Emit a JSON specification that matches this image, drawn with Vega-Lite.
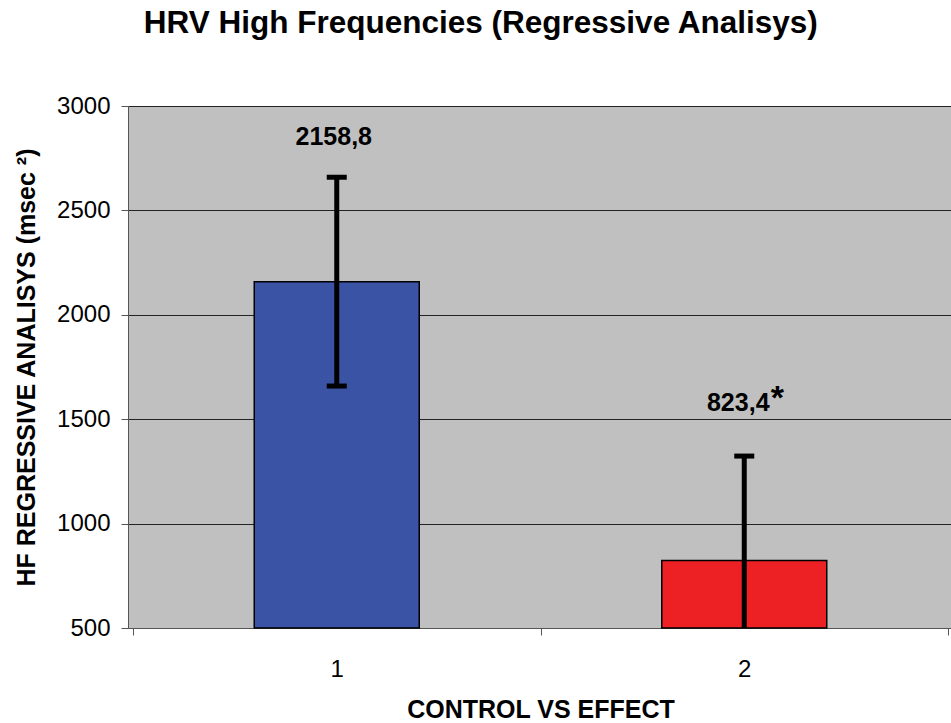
{
  "$schema": "https://vega.github.io/schema/vega-lite/v6.json",
  "width": 825,
  "height": 522,
  "autosize": "none",
  "padding": {"left": 128, "top": 106, "right": 0, "bottom": 95},
  "background": "white",
  "config": {
    "view": {"fill": "#C0C0C0", "stroke": null},
    "font": "Liberation Sans"
  },
  "title": {
    "text": "HRV High Frequencies (Regressive Analisys)",
    "fontSize": 31.5,
    "fontWeight": "bold",
    "font": "Liberation Sans",
    "color": "black",
    "anchor": "middle",
    "frame": "bounds",
    "offset": 55,
    "dx": -3
  },
  "data": {
    "values": [
      {"group": 1, "mean": 2158.8, "lo": 1658.8, "hi": 2658.8, "label": "2158,8", "sig": ""},
      {"group": 2, "mean": 823.4, "lo": 323.4, "hi": 1323.4, "label": "823,4", "sig": "*"}
    ]
  },
  "encoding": {
    "x": {
      "field": "group",
      "type": "quantitative",
      "scale": {"domain": [0.5, 2.5], "nice": false, "zero": false},
      "axis": {
        "values": [0.5, 1, 1.5, 2, 2.5],
        "labelExpr": "datum.value % 1 === 0 ? format(datum.value, 'd') : ''",
        "tickOpacity": {"condition": {"test": "datum.value % 1 === 0", "value": 0}, "value": 1},
        "grid": false,
        "domainColor": "#555555",
        "tickColor": "#555555",
        "tickSize": 7,
        "labelPadding": 22,
        "labelFontSize": 24,
        "labelColor": "black",
        "labelFont": "Liberation Sans",
        "labelOverlap": false,
        "labelBound": false,
        "labelFlush": false,
        "title": "CONTROL VS EFFECT",
        "titleFont": "Liberation Sans",
        "titleFontSize": 25,
        "titleFontWeight": "bold",
        "titleColor": "black",
        "titlePadding": 16
      }
    }
  },
  "layer": [
    {
      "mark": {"type": "bar", "width": 165, "stroke": "black", "strokeWidth": 1.5},
      "encoding": {
        "y": {
          "field": "mean",
          "type": "quantitative",
          "scale": {"domain": [500, 3000], "nice": false, "zero": false},
          "title": "HF REGRESSIVE ANALISYS (msec ²)",
          "axis": {
            "values": [500, 1000, 1500, 2000, 2500, 3000],
            "format": "d",
            "grid": true,
            "gridColor": "#222222",
            "gridWidth": 1,
            "gridOpacity": 1,
            "domainColor": "#555555",
            "tickColor": "#555555",
            "tickSize": 7,
            "labelFontSize": 24,
            "labelColor": "black",
            "labelFont": "Liberation Sans",
            "labelPadding": 11,
            "titleFont": "Liberation Sans",
            "titleFontSize": 25,
            "titleFontWeight": "bold",
            "titleColor": "black",
            "titlePadding": 17
          }
        },
        "y2": {"datum": 500},
        "color": {
          "field": "group",
          "type": "nominal",
          "scale": {"domain": [1, 2], "range": ["#3A53A4", "#ED2024"]},
          "legend": null
        }
      }
    },
    {
      "mark": {"type": "rule", "color": "black", "strokeWidth": 5, "clip": true},
      "encoding": {
        "y": {"field": "lo", "type": "quantitative", "title": "HF REGRESSIVE ANALISYS (msec ²)"},
        "y2": {"field": "hi"}
      }
    },
    {
      "mark": {"type": "tick", "orient": "horizontal", "color": "black", "size": 20, "thickness": 5, "opacity": 1, "clip": true},
      "encoding": {
        "y": {"field": "hi", "type": "quantitative", "title": "HF REGRESSIVE ANALISYS (msec ²)"}
      }
    },
    {
      "mark": {"type": "tick", "orient": "horizontal", "color": "black", "size": 20, "thickness": 5, "opacity": 1, "clip": true},
      "encoding": {
        "y": {"field": "lo", "type": "quantitative", "title": "HF REGRESSIVE ANALISYS (msec ²)"}
      }
    },
    {
      "transform": [{"filter": "datum.group === 1"}],
      "mark": {"type": "text", "fontSize": 25, "fontWeight": "bold", "font": "Liberation Sans", "color": "black", "baseline": "middle", "dy": -40, "dx": -3},
      "encoding": {
        "y": {"field": "hi", "type": "quantitative", "title": "HF REGRESSIVE ANALISYS (msec ²)"},
        "text": {"field": "label"}
      }
    },
    {
      "transform": [{"filter": "datum.group === 2"}],
      "mark": {"type": "text", "fontSize": 25, "fontWeight": "bold", "font": "Liberation Sans", "color": "black", "baseline": "middle", "dy": -53, "dx": -6},
      "encoding": {
        "y": {"field": "hi", "type": "quantitative", "title": "HF REGRESSIVE ANALISYS (msec ²)"},
        "text": {"field": "label"}
      }
    },
    {
      "transform": [{"filter": "datum.group === 2"}],
      "mark": {"type": "text", "fontSize": 34, "fontWeight": "bold", "font": "Liberation Sans", "color": "black", "baseline": "alphabetic", "dy": -47, "dx": 33},
      "encoding": {
        "y": {"field": "hi", "type": "quantitative", "title": "HF REGRESSIVE ANALISYS (msec ²)"},
        "text": {"field": "sig"}
      }
    }
  ]
}
